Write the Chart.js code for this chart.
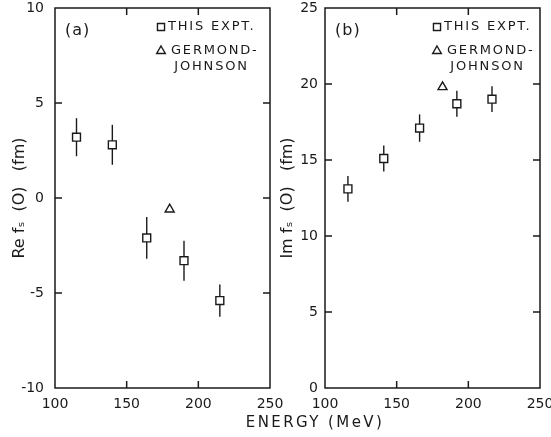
<!DOCTYPE html>
<html>
<head>
<meta charset="utf-8">
<title>Forward scattering amplitude vs energy</title>
<script src="https://cdn.jsdelivr.net/npm/chart.js@4.4.0/dist/chart.umd.min.js"></script>
<style>
  html, body { margin: 0; padding: 0; background: #fff; }
  #wrap { position: relative; width: 551px; height: 437px; overflow: hidden; }
  #reChart { position: absolute; left: 0; top: 0; }
  #imChart { position: absolute; left: 275px; top: 0; }
  #xTitle {
    position: absolute; left: 205px; width: 220px; top: 413px;
    text-align: center; font: 15px "DejaVu Sans", sans-serif;
    letter-spacing: 2.4px; color: #1a1a1a;
  }
</style>
</head>
<body>
<div id="wrap">
  <canvas id="reChart" width="300" height="437"></canvas>
  <canvas id="imChart" width="276" height="437"></canvas>
  <div id="xTitle">ENERGY (MeV)</div>
</div>
<script>
// measured points, panel (a): real part
const energyRe = [115, 140, 164, 190, 215];
const reValues = [3.2, 2.8, -2.1, -3.3, -5.4];
const reErrors = [1.0, 1.05, 1.1, 1.05, 0.85];
const germondRe = [{ x: 180, y: -0.6 }];

// measured points, panel (b): imaginary part
const energyIm = [116, 141, 166, 192, 216.5];
const imValues = [13.1, 15.1, 17.1, 18.7, 19.0];
const imErrors = [0.85, 0.85, 0.9, 0.85, 0.85];
const germondIm = [{ x: 182, y: 19.8 }];

const energyTicks = [100, 150, 200, 250];
const reTicks = [-10, -5, 0, 5, 10];
const imTicks = [0, 5, 10, 15, 20, 25];

const ink = '#1a1a1a';
const fontFamily = '"DejaVu Sans", sans-serif';

function toPoints(xs, ys) {
    return xs.map((x, i) => ({ x: x, y: ys[i] }));
}

// vertical error bars, drawn under the markers
const errorBars = {
    id: 'errorBars',
    beforeDatasetsDraw(chart) {
        const ctx = chart.ctx;
        const y = chart.scales.y;
        ctx.save();
        ctx.strokeStyle = ink;
        ctx.lineWidth = 1.4;
        chart.data.datasets.forEach((ds, di) => {
            if (!ds.errors) return;
            const meta = chart.getDatasetMeta(di);
            meta.data.forEach((pt, i) => {
                const v = ds.data[i].y;
                const e = ds.errors[i];
                ctx.beginPath();
                ctx.moveTo(pt.x, y.getPixelForValue(v + e));
                ctx.lineTo(pt.x, y.getPixelForValue(v - e));
                ctx.stroke();
            });
        });
        ctx.restore();
    }
};

// closed frame with inward tick marks on all four sides
const frameTicks = {
    id: 'frameTicks',
    afterDraw(chart) {
        const { ctx, chartArea: a, scales: { x, y } } = chart;
        const len = 7;
        ctx.save();
        ctx.strokeStyle = ink;
        ctx.lineWidth = 1.5;
        ctx.strokeRect(a.left, a.top, a.right - a.left, a.bottom - a.top);
        ctx.beginPath();
        x.ticks.forEach(t => {
            if (t.value <= x.min || t.value >= x.max) return;
            const px = x.getPixelForValue(t.value);
            ctx.moveTo(px, a.bottom); ctx.lineTo(px, a.bottom - len);
            ctx.moveTo(px, a.top); ctx.lineTo(px, a.top + len);
        });
        y.ticks.forEach(t => {
            if (t.value <= y.min || t.value >= y.max) return;
            const py = y.getPixelForValue(t.value);
            ctx.moveTo(a.left, py); ctx.lineTo(a.left + len, py);
            ctx.moveTo(a.right, py); ctx.lineTo(a.right - len, py);
        });
        ctx.stroke();
        ctx.restore();
    }
};

// panel tag and the key in the upper right corner
const panelKey = {
    id: 'panelKey',
    afterDraw(chart, args, opts) {
        const { ctx, chartArea: a } = chart;
        ctx.save();
        ctx.fillStyle = ink;
        ctx.textBaseline = 'middle';
        ctx.font = '16px ' + fontFamily;
        ctx.letterSpacing = '1px';
        ctx.fillText(opts.tag, a.left + 10, a.top + 23);

        const mx = a.left + opts.keyX;
        const tx = mx + 7;
        const pointOpts = { radius: 5, borderWidth: 1.4 };
        ctx.strokeStyle = ink;
        ctx.lineWidth = 1.4;
        ctx.fillStyle = '#fff';
        Chart.helpers.drawPoint(ctx, Object.assign({ pointStyle: 'rect' }, pointOpts), mx, a.top + 19);
        Chart.helpers.drawPoint(ctx, Object.assign({ pointStyle: 'triangle' }, pointOpts), mx, a.top + 43);

        ctx.fillStyle = ink;
        ctx.font = '13px ' + fontFamily;
        ctx.letterSpacing = '1.8px';
        ctx.fillText('THIS EXPT.', tx, a.top + 19);
        ctx.fillText('GERMOND-', tx + 3, a.top + 43);
        const w = ctx.measureText('GERMOND').width;
        ctx.textAlign = 'center';
        ctx.fillText('JOHNSON', tx + 3 + w / 2, a.top + 59);
        ctx.restore();
    }
};

function makePanel(canvasId, cfg) {
    return new Chart(document.getElementById(canvasId), {
        type: 'scatter',
        data: {
            datasets: [{
                label: 'THIS EXPT.',
                data: cfg.points,
                errors: cfg.errors,
                pointStyle: 'rect',
                pointRadius: 5.6,
                pointBorderWidth: 1.4,
                borderColor: ink,
                backgroundColor: '#fff'
            }, {
                label: 'GERMOND-JOHNSON',
                data: cfg.germond,
                pointStyle: 'triangle',
                pointRadius: 5.2,
                pointBorderWidth: 1.4,
                borderColor: ink,
                backgroundColor: '#fff'
            }]
        },
        options: {
            responsive: false,
            animation: false,
            layout: { padding: { left: 0, top: 8, right: cfg.padRight, bottom: 0 } },
            plugins: {
                legend: { display: false },
                tooltip: { enabled: false },
                panelKey: { tag: cfg.tag, keyX: cfg.keyX }
            },
            scales: {
                x: {
                    type: 'linear',
                    min: 100,
                    max: 250,
                    afterBuildTicks: s => { s.ticks = energyTicks.map(v => ({ value: v })); },
                    afterFit: s => { s.height = 49; s.paddingLeft = 0; s.paddingRight = 0; },
                    grid: { display: false, drawTicks: false },
                    border: { display: false },
                    ticks: { color: ink, padding: 8, maxRotation: 0, font: { family: fontFamily, size: 14 } }
                },
                y: {
                    type: 'linear',
                    min: cfg.yMin,
                    max: cfg.yMax,
                    afterBuildTicks: s => { s.ticks = cfg.yTicks.map(v => ({ value: v })); },
                    afterFit: s => { s.width = cfg.axisWidth; s.paddingTop = 0; s.paddingBottom = 0; },
                    grid: { display: false, drawTicks: false },
                    border: { display: false },
                    ticks: { color: ink, padding: cfg.labelPad, font: { family: fontFamily, size: 14 } },
                    title: {
                        display: true,
                        text: cfg.title,
                        color: ink,
                        padding: { top: cfg.titlePad, bottom: 0 },
                        font: { family: fontFamily, size: 16 }
                    }
                }
            }
        },
        plugins: [errorBars, frameTicks, panelKey]
    });
}

makePanel('reChart', {
    points: toPoints(energyRe, reValues),
    errors: reErrors,
    germond: germondRe,
    yMin: -10, yMax: 10, yTicks: reTicks,
    title: 'Re f\u209B  (O)   (fm)',
    tag: '(a)', keyX: 106,
    axisWidth: 55, padRight: 30, titlePad: 10, labelPad: 11
});

makePanel('imChart', {
    points: toPoints(energyIm, imValues),
    errors: imErrors,
    germond: germondIm,
    yMin: 0, yMax: 25, yTicks: imTicks,
    title: 'Im f\u209B  (O)   (fm)',
    tag: '(b)', keyX: 112,
    axisWidth: 50, padRight: 11, titlePad: 3, labelPad: 7
});
</script>
</body>
</html>
